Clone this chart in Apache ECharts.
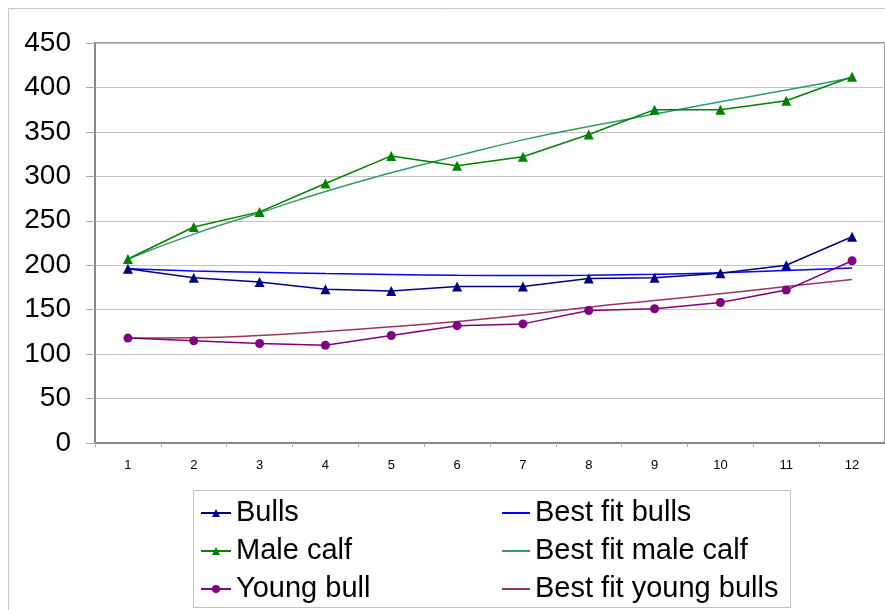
<!DOCTYPE html>
<html>
<head>
<meta charset="utf-8">
<script src="https://cdn.jsdelivr.net/npm/echarts@6/dist/echarts.min.js"></script>
<style>
html,body{margin:0;padding:0;background:#fff;}
#chart{width:885px;height:610px;}
</style>
</head>
<body>
<div id="chart"></div>
<script>
var categories = ['1','2','3','4','5','6','7','8','9','10','11','12'];
var bulls = [196, 186, 181, 173, 171, 176, 176, 185, 186, 191, 200, 232];
var maleCalf = [207, 243, 260, 292, 323, 312, 322, 347, 375, 375, 385, 412];
var youngBull = [118, 115, 112, 110, 121, 132, 134, 149, 151, 158, 172, 205];
var fitBulls = [196, 193.6, 192, 190.6, 189.5, 188.7, 188.4, 188.8, 189.8, 191.4, 194, 197];
var fitMaleCalf = [207, 235, 259, 283, 304, 323, 341, 356, 370, 384, 397, 411];
var fitYoungBulls = [118, 118.5, 121, 125.4, 130.7, 136.7, 144, 152.8, 160.3, 168, 176, 184];
var yTicks = {min: 0, max: 450, step: 50};

var FONT = '"Liberation Sans", Arial, Helvetica, sans-serif';
var chart = echarts.init(document.getElementById('chart'), null, {renderer: 'canvas'});

function dataSeries(name, data, color, symbol, size) {
  return {
    name: name, type: 'line', data: data, symbol: symbol, symbolSize: size,
    itemStyle: {color: color}, lineStyle: {color: color, width: 1.5},
    z: 3
  };
}
function fitSeries(name, data, color) {
  return {
    name: name, type: 'line', data: data, showSymbol: false, symbol: 'none', smooth: true,
    itemStyle: {color: color}, lineStyle: {color: color, width: 1.5},
    z: 2
  };
}

var legendText = {fontFamily: FONT, fontSize: 29, color: '#000', lineHeight: 36};

chart.setOption({
  animation: false,
  backgroundColor: '#fff',
  textStyle: {fontFamily: FONT},
  graphic: [
    {type: 'rect', shape: {x: 8.5, y: 8.5, width: 900, height: 700}, style: {fill: 'none', stroke: '#c8c8c8', lineWidth: 1}, z: -10},
    {type: 'rect', shape: {x: 193.5, y: 490.5, width: 597, height: 117}, style: {fill: '#fff', stroke: '#c0c0c0', lineWidth: 1}, z: -5}
  ],
  grid: {left: 95, top: 43, right: -1, bottom: 167, show: true, borderColor: '#999', borderWidth: 2, backgroundColor: 'transparent'},
  legend: [
    {
      orient: 'vertical', left: 195, top: 490, bottom: 0, height: 140, itemWidth: 30, itemHeight: 10, itemGap: 2,
      textStyle: legendText,
      data: ['Bulls', 'Male calf', 'Young bull']
    },
    {
      orient: 'vertical', left: 497, top: 490, bottom: 0, height: 140, itemWidth: 28, itemHeight: 2, itemGap: 2,
      icon: 'rect',
      textStyle: legendText,
      data: ['Best fit bulls', 'Best fit male calf', 'Best fit young bulls']
    }
  ],
  xAxis: {
    type: 'category', data: categories, boundaryGap: true,
    axisLine: {show: true, lineStyle: {color: '#888', width: 2}},
    axisTick: {show: true, length: 4, lineStyle: {color: '#aaa'}},
    axisLabel: {fontSize: 13, color: '#000', margin: 16, fontFamily: FONT},
    splitLine: {show: false}
  },
  yAxis: {
    type: 'value', min: yTicks.min, max: yTicks.max, interval: yTicks.step,
    axisLine: {show: true, lineStyle: {color: '#888', width: 2}},
    axisTick: {show: true, length: 9, lineStyle: {color: '#aaa'}},
    axisLabel: {fontSize: 28, color: '#000', margin: 24, fontFamily: FONT},
    splitLine: {show: true, lineStyle: {color: '#c4c4c4', width: 1}}
  },
  series: [
    dataSeries('Bulls', bulls, '#000080', 'triangle', 10),
    dataSeries('Male calf', maleCalf, '#008000', 'triangle', 10),
    dataSeries('Young bull', youngBull, '#800080', 'circle', 9),
    fitSeries('Best fit bulls', fitBulls, '#0000ff'),
    fitSeries('Best fit male calf', fitMaleCalf, '#339966'),
    fitSeries('Best fit young bulls', fitYoungBulls, '#993366')
  ]
});
</script>
</body>
</html>
